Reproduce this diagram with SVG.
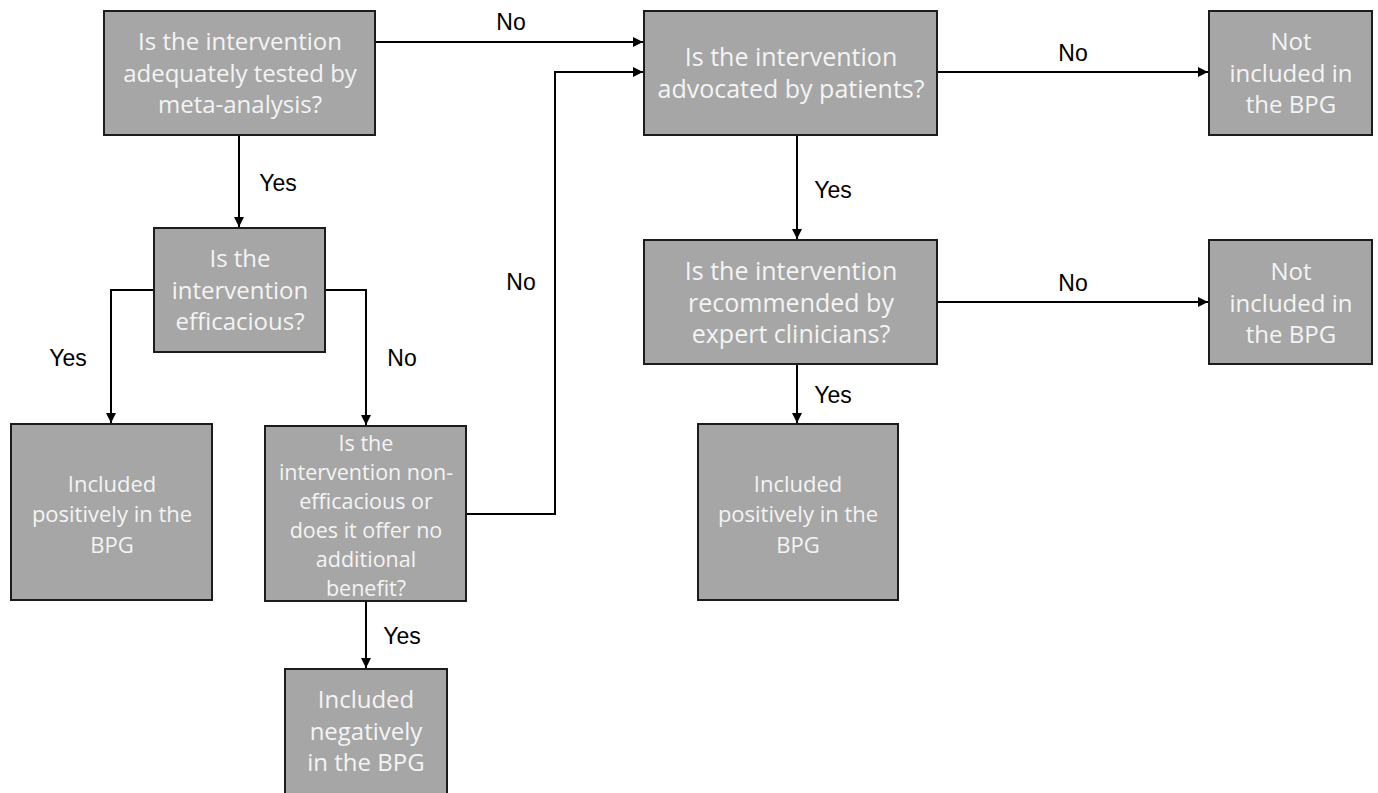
<svg xmlns="http://www.w3.org/2000/svg" width="1378" height="793" viewBox="0 0 1378 793">
<style>
.box{fill:#a6a6a6;stroke:#1c1c1c;stroke-width:2}
.t{font-family:"Open Sans","Liberation Sans",sans-serif;font-size:24px;fill:#f4f4f4;text-anchor:middle}
.s{font-size:21.5px}
.m{font-size:22px}
.w{font-size:25px}
.lbl{font-family:"Liberation Sans",Arial,sans-serif;font-size:23px;fill:#000;text-anchor:middle}
.c{fill:none;stroke:#000;stroke-width:2}
</style>
<defs>
<marker id="ah" viewBox="0 0 10 10" refX="10" refY="5" markerWidth="5" markerHeight="5" orient="auto" markerUnits="strokeWidth">
<path d="M0,0 L10,5 L0,10 z" fill="#000"/>
</marker>
</defs>
<rect width="1378" height="793" fill="#fff"/>
<g id="connectors">
<path class="c" d="M375,42 H643" marker-end="url(#ah)"/>
<path class="c" d="M466,514 H555 V72 H643" marker-end="url(#ah)"/>
<path class="c" d="M937,72 H1208" marker-end="url(#ah)"/>
<path class="c" d="M797,135 V239" marker-end="url(#ah)"/>
<path class="c" d="M937,302 H1208" marker-end="url(#ah)"/>
<path class="c" d="M797,364 V423" marker-end="url(#ah)"/>
<path class="c" d="M239,135 V227" marker-end="url(#ah)"/>
<path class="c" d="M154,290 H111 V423" marker-end="url(#ah)"/>
<path class="c" d="M325,290 H366 V425" marker-end="url(#ah)"/>
<path class="c" d="M366,601 V668" marker-end="url(#ah)"/>
<text class="lbl" x="511" y="30">No</text>
<text class="lbl" x="521" y="290">No</text>
<text class="lbl" x="1073" y="61">No</text>
<text class="lbl" x="833" y="198">Yes</text>
<text class="lbl" x="1073" y="291">No</text>
<text class="lbl" x="833" y="403">Yes</text>
<text class="lbl" x="278" y="191">Yes</text>
<text class="lbl" x="68" y="366">Yes</text>
<text class="lbl" x="402" y="366">No</text>
<text class="lbl" x="402" y="644">Yes</text>
</g>
<g id="n-meta">
<rect class="box" x="104" y="11" width="271" height="124"/>
<text class="t" x="240" y="50">Is the intervention</text>
<text class="t" x="240" y="82">adequately tested by</text>
<text class="t" x="240" y="113">meta-analysis?</text>
</g>
<g id="n-patients">
<rect class="box" x="644" y="11" width="293" height="124"/>
<text class="t w" x="791" y="66">Is the intervention</text>
<text class="t w" x="791" y="98">advocated by patients?</text>
</g>
<g id="n-notinc1">
<rect class="box" x="1209" y="11" width="163" height="124"/>
<text class="t" x="1291" y="50">Not</text>
<text class="t" x="1291" y="82">included in</text>
<text class="t" x="1291" y="113">the BPG</text>
</g>
<g id="n-clinicians">
<rect class="box" x="644" y="240" width="293" height="124"/>
<text class="t w" x="791" y="280">Is the intervention</text>
<text class="t w" x="791" y="312">recommended by</text>
<text class="t w" x="791" y="343">expert clinicians?</text>
</g>
<g id="n-notinc2">
<rect class="box" x="1209" y="240" width="163" height="124"/>
<text class="t" x="1291" y="280">Not</text>
<text class="t" x="1291" y="312">included in</text>
<text class="t" x="1291" y="343">the BPG</text>
</g>
<g id="n-pos-right">
<rect class="box" x="698" y="424" width="200" height="176"/>
<text class="t m" x="798" y="492">Included</text>
<text class="t m" x="798" y="522">positively in the</text>
<text class="t m" x="798" y="553">BPG</text>
</g>
<g id="n-efficacious">
<rect class="box" x="154" y="228" width="171" height="124"/>
<text class="t" x="240" y="267">Is the</text>
<text class="t" x="240" y="299">intervention</text>
<text class="t" x="240" y="330">efficacious?</text>
</g>
<g id="n-pos-left">
<rect class="box" x="11" y="424" width="201" height="176"/>
<text class="t m" x="112" y="492">Included</text>
<text class="t m" x="112" y="522">positively in the</text>
<text class="t m" x="112" y="553">BPG</text>
</g>
<g id="n-nonefficacious">
<rect class="box" x="265" y="426" width="201" height="175"/>
<text class="t s" x="366" y="451">Is the</text>
<text class="t s" x="366" y="480">intervention non-</text>
<text class="t s" x="366" y="509">efficacious or</text>
<text class="t s" x="366" y="538">does it offer no</text>
<text class="t s" x="366" y="567">additional</text>
<text class="t s" x="366" y="596">benefit?</text>
</g>
<g id="n-negative">
<rect class="box" x="285" y="669" width="162" height="130"/>
<text class="t" x="366" y="708">Included</text>
<text class="t" x="366" y="740">negatively</text>
<text class="t" x="366" y="771">in the BPG</text>
</g>
</svg>
